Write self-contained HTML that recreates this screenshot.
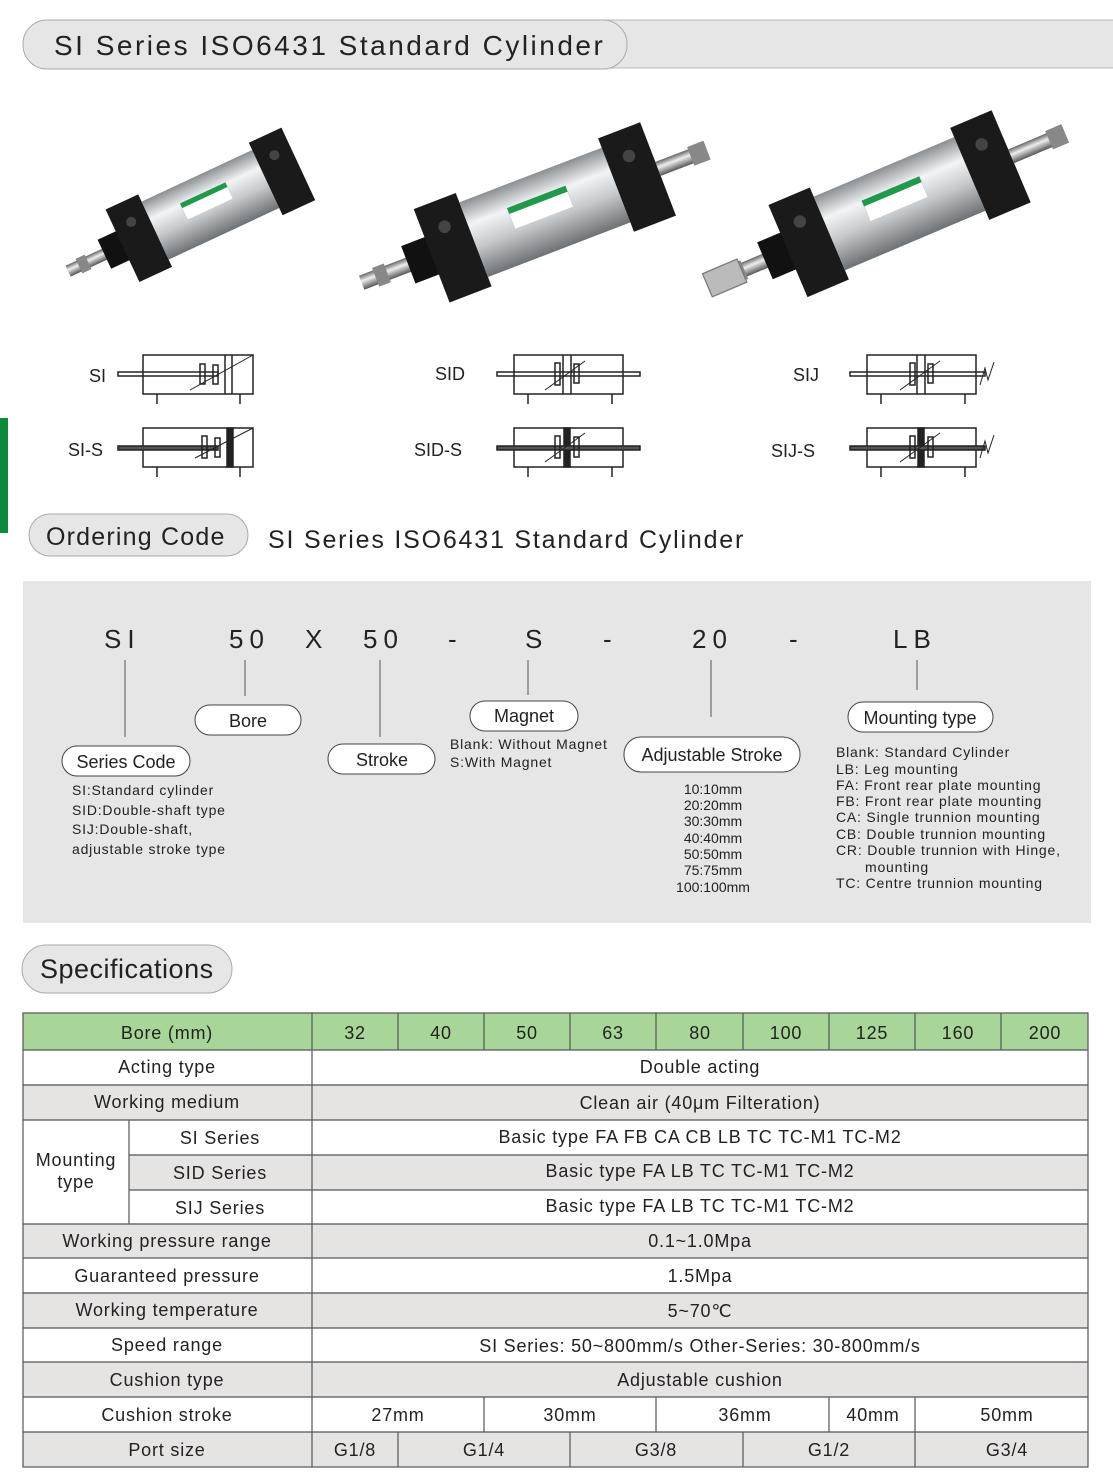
<!DOCTYPE html>
<html><head><meta charset="utf-8"><style>
html,body{margin:0;padding:0;background:#fff}
svg{display:block}
text{font-family:"Liberation Sans",sans-serif;fill:#222}
</style></head><body>
<svg width="1113" height="1484" viewBox="0 0 1113 1484" xmlns="http://www.w3.org/2000/svg">
<defs>
<linearGradient id="sil" x1="0" y1="0" x2="0" y2="1">
<stop offset="0" stop-color="#8a8f94"/><stop offset="0.3" stop-color="#f2f4f5"/><stop offset="0.6" stop-color="#c5c9cc"/><stop offset="1" stop-color="#6d7276"/></linearGradient>
<linearGradient id="rod" x1="0" y1="0" x2="0" y2="1">
<stop offset="0" stop-color="#666"/><stop offset="0.4" stop-color="#eee"/><stop offset="1" stop-color="#555"/></linearGradient>
<g id="cyl">
<rect x="-140" y="-6" width="50" height="12" fill="url(#rod)"/>
<rect x="-128" y="-8" width="10" height="16" fill="#888"/>
<rect x="-100" y="-16" width="22" height="32" fill="#111"/>
<rect x="-80" y="-40" width="36" height="80" fill="#1a1a1a"/>
<rect x="-44" y="-32" width="122" height="64" fill="url(#sil)"/>
<rect x="-10" y="-14" width="50" height="18" fill="#fff" stroke="#ccc" stroke-width="0.5"/>
<rect x="-10" y="-14" width="50" height="5" fill="#1f9a4a"/>
<rect x="78" y="-40" width="36" height="80" fill="#1a1a1a"/>
<circle cx="-62" cy="-18" r="5" fill="#444"/>
<circle cx="96" cy="-18" r="5" fill="#444"/>
</g>
</defs>

<rect x="400" y="20" width="730" height="48" fill="#e6e6e6" stroke="#bbb"/>
<rect x="23" y="20" width="604" height="49" rx="24" fill="#e6e6e6" stroke="#aaa"/>
<text x="54" y="55" font-size="28" letter-spacing="2.5">SI Series ISO6431 Standard Cylinder</text>

<g transform="translate(195,212) rotate(-25)"><use href="#cyl"/></g>
<g transform="translate(525,220) rotate(-21) scale(1.25)"><use href="#cyl"/>
<rect x="114" y="-6" width="40" height="12" fill="url(#rod)"/><rect x="142" y="-8" width="14" height="16" fill="#888"/></g>
<g transform="translate(880,212) rotate(-23) scale(1.25)"><use href="#cyl"/>
<rect x="114" y="-6" width="44" height="12" fill="url(#rod)"/><rect x="147" y="-8" width="14" height="16" fill="#888"/>
<rect x="-150" y="-10" width="30" height="20" fill="#bbb" stroke="#777"/></g>

<rect x="0" y="418" width="8" height="115" fill="#0b8a3a"/>

<g fill="none" stroke="#222" stroke-width="1.5">
<rect x="143" y="355" width="110" height="39"/><line x1="225" y1="355" x2="225" y2="394"/><line x1="232" y1="355" x2="232" y2="394"/>
<rect x="118" y="372" width="100" height="4"/><rect x="200" y="364" width="5" height="20"/><rect x="213" y="365" width="5" height="19"/>
<line x1="190" y1="390" x2="253" y2="355" stroke-width="1"/>
<line x1="157" y1="394" x2="157" y2="404"/><line x1="240" y1="394" x2="240" y2="404"/>
<rect x="143" y="428" width="110" height="39"/><rect x="227" y="428" width="6" height="39" fill="#222"/>
<rect x="118" y="446" width="100" height="4" fill="#555"/><rect x="202" y="436" width="5" height="22"/><rect x="215" y="438" width="5" height="19"/>
<line x1="195" y1="458" x2="253" y2="428" stroke-width="1"/>
<line x1="157" y1="467" x2="157" y2="477"/><line x1="240" y1="467" x2="240" y2="477"/>
<rect x="514" y="355" width="109" height="39"/><line x1="563" y1="355" x2="563" y2="394"/><line x1="571" y1="355" x2="571" y2="394"/>
<rect x="497" y="372" width="143" height="4"/><rect x="555" y="363" width="5" height="22"/><rect x="574" y="364" width="5" height="19"/>
<line x1="545" y1="390" x2="585" y2="361" stroke-width="1"/>
<line x1="528" y1="394" x2="528" y2="404"/><line x1="612" y1="394" x2="612" y2="404"/>
<rect x="514" y="428" width="109" height="39"/><rect x="564" y="428" width="6" height="39" fill="#222"/>
<rect x="497" y="446" width="143" height="4" fill="#555"/><rect x="555" y="436" width="5" height="22"/><rect x="574" y="437" width="5" height="20"/>
<line x1="545" y1="462" x2="585" y2="433" stroke-width="1"/>
<line x1="528" y1="467" x2="528" y2="477"/><line x1="612" y1="467" x2="612" y2="477"/>
<rect x="867" y="355" width="109" height="39"/><line x1="917" y1="355" x2="917" y2="394"/><line x1="925" y1="355" x2="925" y2="394"/>
<rect x="850" y="372" width="135" height="4"/><rect x="910" y="363" width="5" height="22"/><rect x="928" y="364" width="5" height="19"/>
<line x1="900" y1="390" x2="940" y2="361" stroke-width="1"/>
<path d="M980 385 L985 368 L988 380 L994 362" stroke-width="1"/>
<line x1="881" y1="394" x2="881" y2="404"/><line x1="965" y1="394" x2="965" y2="404"/>
<rect x="867" y="428" width="109" height="39"/><rect x="918" y="428" width="6" height="39" fill="#222"/>
<rect x="850" y="446" width="135" height="4" fill="#555"/><rect x="910" y="436" width="5" height="22"/><rect x="928" y="437" width="5" height="20"/>
<line x1="900" y1="462" x2="940" y2="433" stroke-width="1"/>
<path d="M980 458 L985 441 L988 453 L994 435" stroke-width="1"/>
<line x1="881" y1="467" x2="881" y2="477"/><line x1="965" y1="467" x2="965" y2="477"/>
</g>
<g font-size="18">
<text x="89" y="382">SI</text><text x="68" y="456">SI-S</text>
<text x="435" y="380">SID</text><text x="414" y="456">SID-S</text>
<text x="793" y="381">SIJ</text><text x="771" y="457">SIJ-S</text>
</g>

<rect x="29" y="514" width="219" height="42" rx="21" fill="#e6e6e6" stroke="#aaa"/>
<text x="46" y="545" font-size="25" letter-spacing="1.2">Ordering Code</text>
<text x="268" y="548" font-size="25" letter-spacing="1.8">SI Series ISO6431 Standard Cylinder</text>

<rect x="23" y="581" width="1068" height="342" fill="#e6e6e6"/>
<g font-size="26" letter-spacing="6">
<text x="104" y="648">SI</text><text x="229" y="648">50</text><text x="305" y="648">X</text><text x="363" y="648">50</text>
<text x="448" y="648">-</text><text x="525" y="648">S</text><text x="603" y="648">-</text><text x="692" y="648">20</text>
<text x="789" y="648">-</text><text x="893" y="648">LB</text>
</g>
<g stroke="#555" stroke-width="1">
<line x1="125" y1="660" x2="125" y2="737"/><line x1="245" y1="660" x2="245" y2="696"/>
<line x1="380" y1="660" x2="380" y2="737"/><line x1="528" y1="660" x2="528" y2="695"/>
<line x1="711" y1="660" x2="711" y2="717"/><line x1="917" y1="660" x2="917" y2="690"/>
</g>
<g fill="#fff" stroke="#444" stroke-width="1">
<rect x="195" y="705" width="106" height="30" rx="15"/>
<rect x="62" y="746" width="128" height="30" rx="15"/>
<rect x="328" y="744" width="107" height="30" rx="15"/>
<rect x="470" y="701" width="108" height="30" rx="15"/>
<rect x="624" y="737" width="176" height="35" rx="17"/>
<rect x="848" y="702" width="145" height="30" rx="15"/>
</g>
<g font-size="18">
<text x="248" y="727" text-anchor="middle">Bore</text>
<text x="126" y="768" text-anchor="middle">Series Code</text>
<text x="382" y="766" text-anchor="middle">Stroke</text>
<text x="524" y="722" text-anchor="middle">Magnet</text>
<text x="712" y="761" text-anchor="middle">Adjustable Stroke</text>
<text x="920" y="724" text-anchor="middle">Mounting type</text>
</g>
<g font-size="14" letter-spacing="0.8">
<text x="72" y="795">SI:Standard cylinder</text>
<text x="72" y="815">SID:Double-shaft type</text>
<text x="72" y="834">SIJ:Double-shaft,</text>
<text x="72" y="854">adjustable stroke type</text>
<text x="450" y="749">Blank: Without Magnet</text>
<text x="450" y="767">S:With Magnet</text>
</g>
<g font-size="14" text-anchor="middle">
<text x="713" y="794">10:10mm</text><text x="713" y="810">20:20mm</text><text x="713" y="826">30:30mm</text>
<text x="713" y="843">40:40mm</text><text x="713" y="859">50:50mm</text><text x="713" y="875">75:75mm</text>
<text x="713" y="892">100:100mm</text>
</g>
<g font-size="14" letter-spacing="0.8">
<text x="836" y="757">Blank: Standard Cylinder</text>
<text x="836" y="774">LB: Leg mounting</text>
<text x="836" y="790">FA: Front rear plate mounting</text>
<text x="836" y="806">FB: Front rear plate mounting</text>
<text x="836" y="822">CA: Single trunnion mounting</text>
<text x="836" y="839">CB: Double trunnion mounting</text>
<text x="836" y="855">CR: Double trunnion with Hinge,</text>
<text x="865" y="872">mounting</text>
<text x="836" y="888">TC: Centre trunnion mounting</text>
</g>

<rect x="22" y="945" width="210" height="48" rx="24" fill="#e6e6e6" stroke="#aaa"/>
<text x="40" y="978" font-size="27" letter-spacing="0.5">Specifications</text>

<rect x="23" y="1013" width="1065" height="37" fill="#a8d598"/>
<g fill="#e6e3e3">
<rect x="23" y="1085" width="1065" height="35"/>
<rect x="129" y="1155" width="959" height="35"/>
<rect x="23" y="1224" width="1065" height="34"/>
<rect x="23" y="1293" width="1065" height="35"/>
<rect x="23" y="1362" width="1065" height="35"/>
<rect x="23" y="1432" width="1065" height="35"/>
</g>
<g stroke="#555" stroke-width="1.2" fill="none">
<rect x="23" y="1013" width="1065" height="454"/>
<line x1="23" y1="1050" x2="1088" y2="1050"/>
<line x1="23" y1="1085" x2="1088" y2="1085"/>
<line x1="23" y1="1120" x2="1088" y2="1120"/>
<line x1="129" y1="1155" x2="1088" y2="1155"/>
<line x1="129" y1="1190" x2="1088" y2="1190"/>
<line x1="23" y1="1224" x2="1088" y2="1224"/>
<line x1="23" y1="1258" x2="1088" y2="1258"/>
<line x1="23" y1="1293" x2="1088" y2="1293"/>
<line x1="23" y1="1328" x2="1088" y2="1328"/>
<line x1="23" y1="1362" x2="1088" y2="1362"/>
<line x1="23" y1="1397" x2="1088" y2="1397"/>
<line x1="23" y1="1432" x2="1088" y2="1432"/>
<line x1="312" y1="1013" x2="312" y2="1467"/>
<line x1="129" y1="1120" x2="129" y2="1224"/>
<line x1="398" y1="1013" x2="398" y2="1050"/><line x1="484" y1="1013" x2="484" y2="1050"/>
<line x1="570" y1="1013" x2="570" y2="1050"/><line x1="656" y1="1013" x2="656" y2="1050"/>
<line x1="743" y1="1013" x2="743" y2="1050"/><line x1="829" y1="1013" x2="829" y2="1050"/>
<line x1="915" y1="1013" x2="915" y2="1050"/><line x1="1001" y1="1013" x2="1001" y2="1050"/>
<line x1="484" y1="1397" x2="484" y2="1432"/><line x1="656" y1="1397" x2="656" y2="1432"/>
<line x1="829" y1="1397" x2="829" y2="1432"/><line x1="915" y1="1397" x2="915" y2="1432"/>
<line x1="398" y1="1432" x2="398" y2="1467"/><line x1="570" y1="1432" x2="570" y2="1467"/>
<line x1="743" y1="1432" x2="743" y2="1467"/><line x1="915" y1="1432" x2="915" y2="1467"/>
</g>
<g font-size="18" text-anchor="middle" letter-spacing="0.8">
<text x="167" y="1039">Bore (mm)</text>
<text x="355" y="1039">32</text><text x="441" y="1039">40</text><text x="527" y="1039">50</text>
<text x="613" y="1039">63</text><text x="700" y="1039">80</text><text x="786" y="1039">100</text>
<text x="872" y="1039">125</text><text x="958" y="1039">160</text><text x="1045" y="1039">200</text>
<text x="167" y="1073">Acting type</text><text x="700" y="1073">Double  acting</text>
<text x="167" y="1108">Working medium</text><text x="700" y="1109">Clean air (40μm Filteration)</text>
<text x="76" y="1166">Mounting</text><text x="76" y="1188">type</text>
<text x="220" y="1144">SI Series</text><text x="700" y="1143">Basic type FA FB CA CB LB TC TC-M1 TC-M2</text>
<text x="220" y="1179">SID Series</text><text x="700" y="1177">Basic type   FA LB TC TC-M1 TC-M2</text>
<text x="220" y="1214">SIJ Series</text><text x="700" y="1212">Basic type FA LB TC TC-M1 TC-M2</text>
<text x="167" y="1247">Working pressure range</text><text x="700" y="1247">0.1~1.0Mpa</text>
<text x="167" y="1282">Guaranteed pressure</text><text x="700" y="1282">1.5Mpa</text>
<text x="167" y="1316">Working temperature</text><text x="700" y="1317">5~70℃</text>
<text x="167" y="1351">Speed range</text><text x="700" y="1352">SI Series: 50~800mm/s  Other-Series: 30-800mm/s</text>
<text x="167" y="1386">Cushion type</text><text x="700" y="1386">Adjustable cushion</text>
<text x="167" y="1421">Cushion stroke</text>
<text x="398" y="1421">27mm</text><text x="570" y="1421">30mm</text><text x="745" y="1421">36mm</text>
<text x="873" y="1421">40mm</text><text x="1007" y="1421">50mm</text>
<text x="167" y="1456">Port size</text>
<text x="355" y="1456">G1/8</text><text x="484" y="1456">G1/4</text><text x="656" y="1456">G3/8</text>
<text x="829" y="1456">G1/2</text><text x="1007" y="1456">G3/4</text>
</g>
</svg>
</body></html>
